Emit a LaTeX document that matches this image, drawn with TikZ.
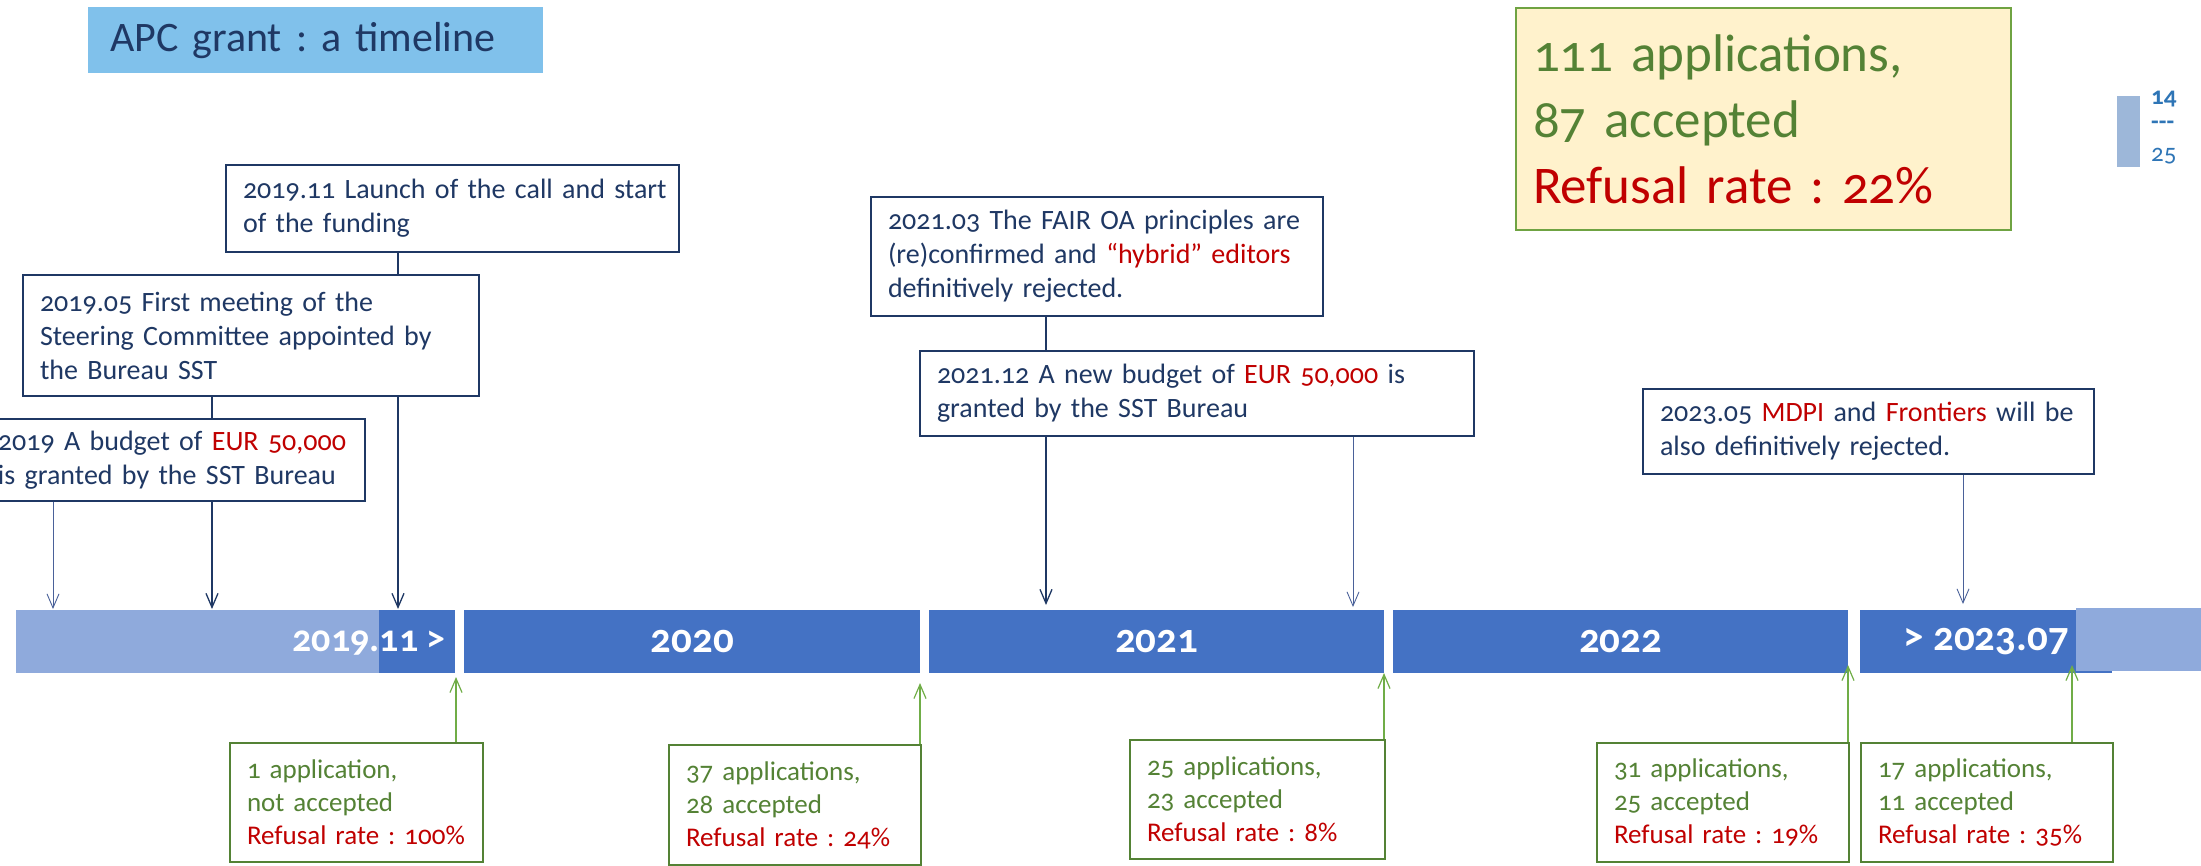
\documentclass[tikz,border=0pt]{standalone}
\usepackage{fontspec}
\setmainfont{Carlito}[Numbers=OldStyle]
\usetikzlibrary{arrows.meta}
\frenchspacing
\definecolor{navy}{HTML}{1F3864}
\definecolor{navylight}{HTML}{4A6199}
\definecolor{titlefill}{HTML}{80C1EB}
\definecolor{bardark}{HTML}{4472C4}
\definecolor{barlight}{HTML}{8FAADC}
\definecolor{grtext}{HTML}{548235}
\definecolor{grline}{HTML}{70AD47}
\definecolor{sumline}{HTML}{6FA342}
\definecolor{rdtext}{HTML}{C00000}
\definecolor{sumfill}{HTML}{FFF2CC}
\definecolor{pgrect}{HTML}{9DB7D9}
\definecolor{pgtext}{HTML}{2E75B6}
\pgfdeclarelayer{barlayer}
\pgfdeclarelayer{linelayer}
\pgfsetlayers{barlayer,linelayer,main}
\newcommand{\oneln}[1]{\mbox{#1}}
\tikzset{
  evbox/.style={draw=navy, line width=2pt, fill=white, anchor=north west, inner xsep=17pt, inner ysep=0pt, align=left, text=navy, font=\fontsize{28}{34}\selectfont\frenchspacing},
  grbox/.style={draw=grtext, line width=2pt, fill=white, anchor=north west, inner xsep=17pt, inner ysep=0pt, align=left, text=grtext, font=\fontsize{27}{33}\selectfont\frenchspacing},
  yearbar/.style={anchor=north west, inner sep=0pt, minimum height=63pt, text=white, font=\fontsize{41}{41}\selectfont\bfseries},
  navyarrow/.style={draw=navy, line width=1.3pt, -{Straight Barb[length=14pt,width=12pt]}},
  lightarrow/.style={draw=navylight, line width=0.9pt, -{Straight Barb[length=14pt,width=12pt]}},
  grarrow/.style={draw=grline, line width=1.2pt, -{Straight Barb[length=14pt,width=12pt]}},
  pgnum/.style={anchor=west, inner sep=0pt, text=pgtext, font=\fontsize{25}{25}\selectfont},
}
\begin{document}
\begin{tikzpicture}[x=1pt,y=-1pt]
\useasboundingbox (0,0) rectangle (2201,865);
\clip (0,0) rectangle (2201,865);
% timeline bars
\begin{pgfonlayer}{barlayer}
\node[yearbar, fill=barlight, minimum width=363pt] (pre) at (16,610) {};
\node[yearbar, fill=bardark, minimum width=76pt] (y2019) at (379,610) {};
\node[yearbar, fill=bardark, minimum width=456pt] (y2020) at (464,610) {2020};
\node[yearbar, fill=bardark, minimum width=455pt] (y2021) at (929,610) {2021};
\node[yearbar, fill=bardark, minimum width=455pt] (y2022) at (1393,610) {2022};
\node[yearbar, fill=bardark, minimum width=252pt] (y2023) at (1860,610) {> 2023.07};
\node[yearbar, fill=barlight, minimum width=130pt] (post) at (2076,608) {};
\node[anchor=east, inner sep=0pt, text=white, font=\fontsize{38}{38}\selectfont\bfseries] (lab19) at (446,643) {2019.11 >};
\end{pgfonlayer}
% title
\node[fill=titlefill, anchor=north west, minimum height=66pt, text width=411pt, inner xsep=22pt, inner ysep=0pt, align=left, text=navy, font=\fontsize{42}{42}\selectfont\frenchspacing] (title) at (88,7) {APC grant : a timeline};
% summary
\node[draw=sumline, line width=2pt, fill=sumfill, anchor=north west, minimum height=222pt, text width=461pt, inner xsep=17pt, inner ysep=0pt, align=left, font=\fontsize{53}{66}\selectfont\frenchspacing] (summary) at (1515,7) {\oneln{\textcolor{grtext}{111 applications,}}\\ \oneln{\textcolor{grtext}{87 accepted}}\\ \oneln{\textcolor{rdtext}{Refusal rate : 22\%}}};
% page indicator
\fill[pgrect] (2117,96) rectangle (2140,167);
\node[pgnum, font=\fontsize{25}{25}\selectfont\bfseries] (pgcur) at (2151,99) {14};
\node[pgnum, font=\fontsize{25}{25}\selectfont\bfseries] (pgsep) at (2151,125) {{-}{-}{-}};
\node[pgnum] (pgtot) at (2151,156) {25};
% event boxes
\node[evbox, text width=419pt, minimum height=87pt] (launch) at (225,164) {\oneln{2019.11 Launch of the call and start}\\ \oneln{of the funding}};
\node[evbox, text width=422pt, minimum height=121pt] (meeting) at (22,274) {\oneln{2019.05 First meeting of the}\\ \oneln{Steering Committee appointed by}\\ \oneln{the Bureau SST}};
\node[evbox, text width=350pt, minimum height=82pt] (budgetA) at (-20,418) {\oneln{2019 A budget of \textcolor{rdtext}{EUR 50,000}}\\ \oneln{is granted by the SST Bureau}};
\node[evbox, text width=418pt, minimum height=119pt] (fair) at (870,196) {\oneln{2021.03 The FAIR OA principles are}\\ \oneln{(re)confirmed and \textcolor{rdtext}{“hybrid” editors}}\\ \oneln{definitively rejected.}};
\node[evbox, text width=520pt, minimum height=85pt] (budgetB) at (919,350) {\oneln{2021.12 A new budget of \textcolor{rdtext}{EUR 50,000} is}\\ \oneln{granted by the SST Bureau}};
\node[evbox, text width=417pt, minimum height=85pt] (mdpi) at (1642,388) {\oneln{2023.05 \textcolor{rdtext}{MDPI} and \textcolor{rdtext}{Frontiers} will be}\\ \oneln{also definitively rejected.}};
% result boxes
\node[grbox, text width=219pt, minimum height=119pt] (b1) at (229,742) {\oneln{1 application,}\\ \oneln{not accepted}\\ \oneln{\textcolor{rdtext}{Refusal rate : 100\%}}};
\node[grbox, text width=218pt, minimum height=120pt] (b2) at (668,744) {\oneln{37 applications,}\\ \oneln{28 accepted}\\ \oneln{\textcolor{rdtext}{Refusal rate : 24\%}}};
\node[grbox, text width=221pt, minimum height=119pt] (b3) at (1129,739) {\oneln{25 applications,}\\ \oneln{23 accepted}\\ \oneln{\textcolor{rdtext}{Refusal rate : 8\%}}};
\node[grbox, text width=218pt, minimum height=119pt] (b4) at (1596,742) {\oneln{31 applications,}\\ \oneln{25 accepted}\\ \oneln{\textcolor{rdtext}{Refusal rate : 19\%}}};
\node[grbox, text width=218pt, minimum height=119pt] (b5) at (1860,742) {\oneln{17 applications,}\\ \oneln{11 accepted}\\ \oneln{\textcolor{rdtext}{Refusal rate : 35\%}}};
% arrow tips
\coordinate (t1) at (53,609);
\coordinate (t2) at (212,609);
\coordinate (t3) at (398,609);
\coordinate (t4) at (1046,605);
\coordinate (t5) at (1353,607);
\coordinate (t6) at (1963,604);
\coordinate (u1) at (456,677);
\coordinate (u2) at (920,683);
\coordinate (u3) at (1384,673);
\coordinate (u4) at (1848,665);
\coordinate (u5) at (2072,665);
\begin{pgfonlayer}{linelayer}
\draw[lightarrow] (budgetA.south -| t1) -- (t1);
\draw[navyarrow] (meeting.south -| t2) -- (t2);
\draw[navyarrow] (launch.south -| t3) -- (t3);
\draw[navyarrow] (fair.south -| t4) -- (t4);
\draw[lightarrow] (budgetB.south -| t5) -- (t5);
\draw[lightarrow] (mdpi.south -| t6) -- (t6);
\draw[grarrow] (b1.north -| u1) -- (u1);
\draw[grarrow] (b2.north -| u2) -- (u2);
\draw[grarrow] (b3.north -| u3) -- (u3);
\draw[grarrow] (b4.north -| u4) -- (u4);
\draw[grarrow] (b5.north -| u5) -- (u5);
\end{pgfonlayer}
\end{tikzpicture}
\end{document}
